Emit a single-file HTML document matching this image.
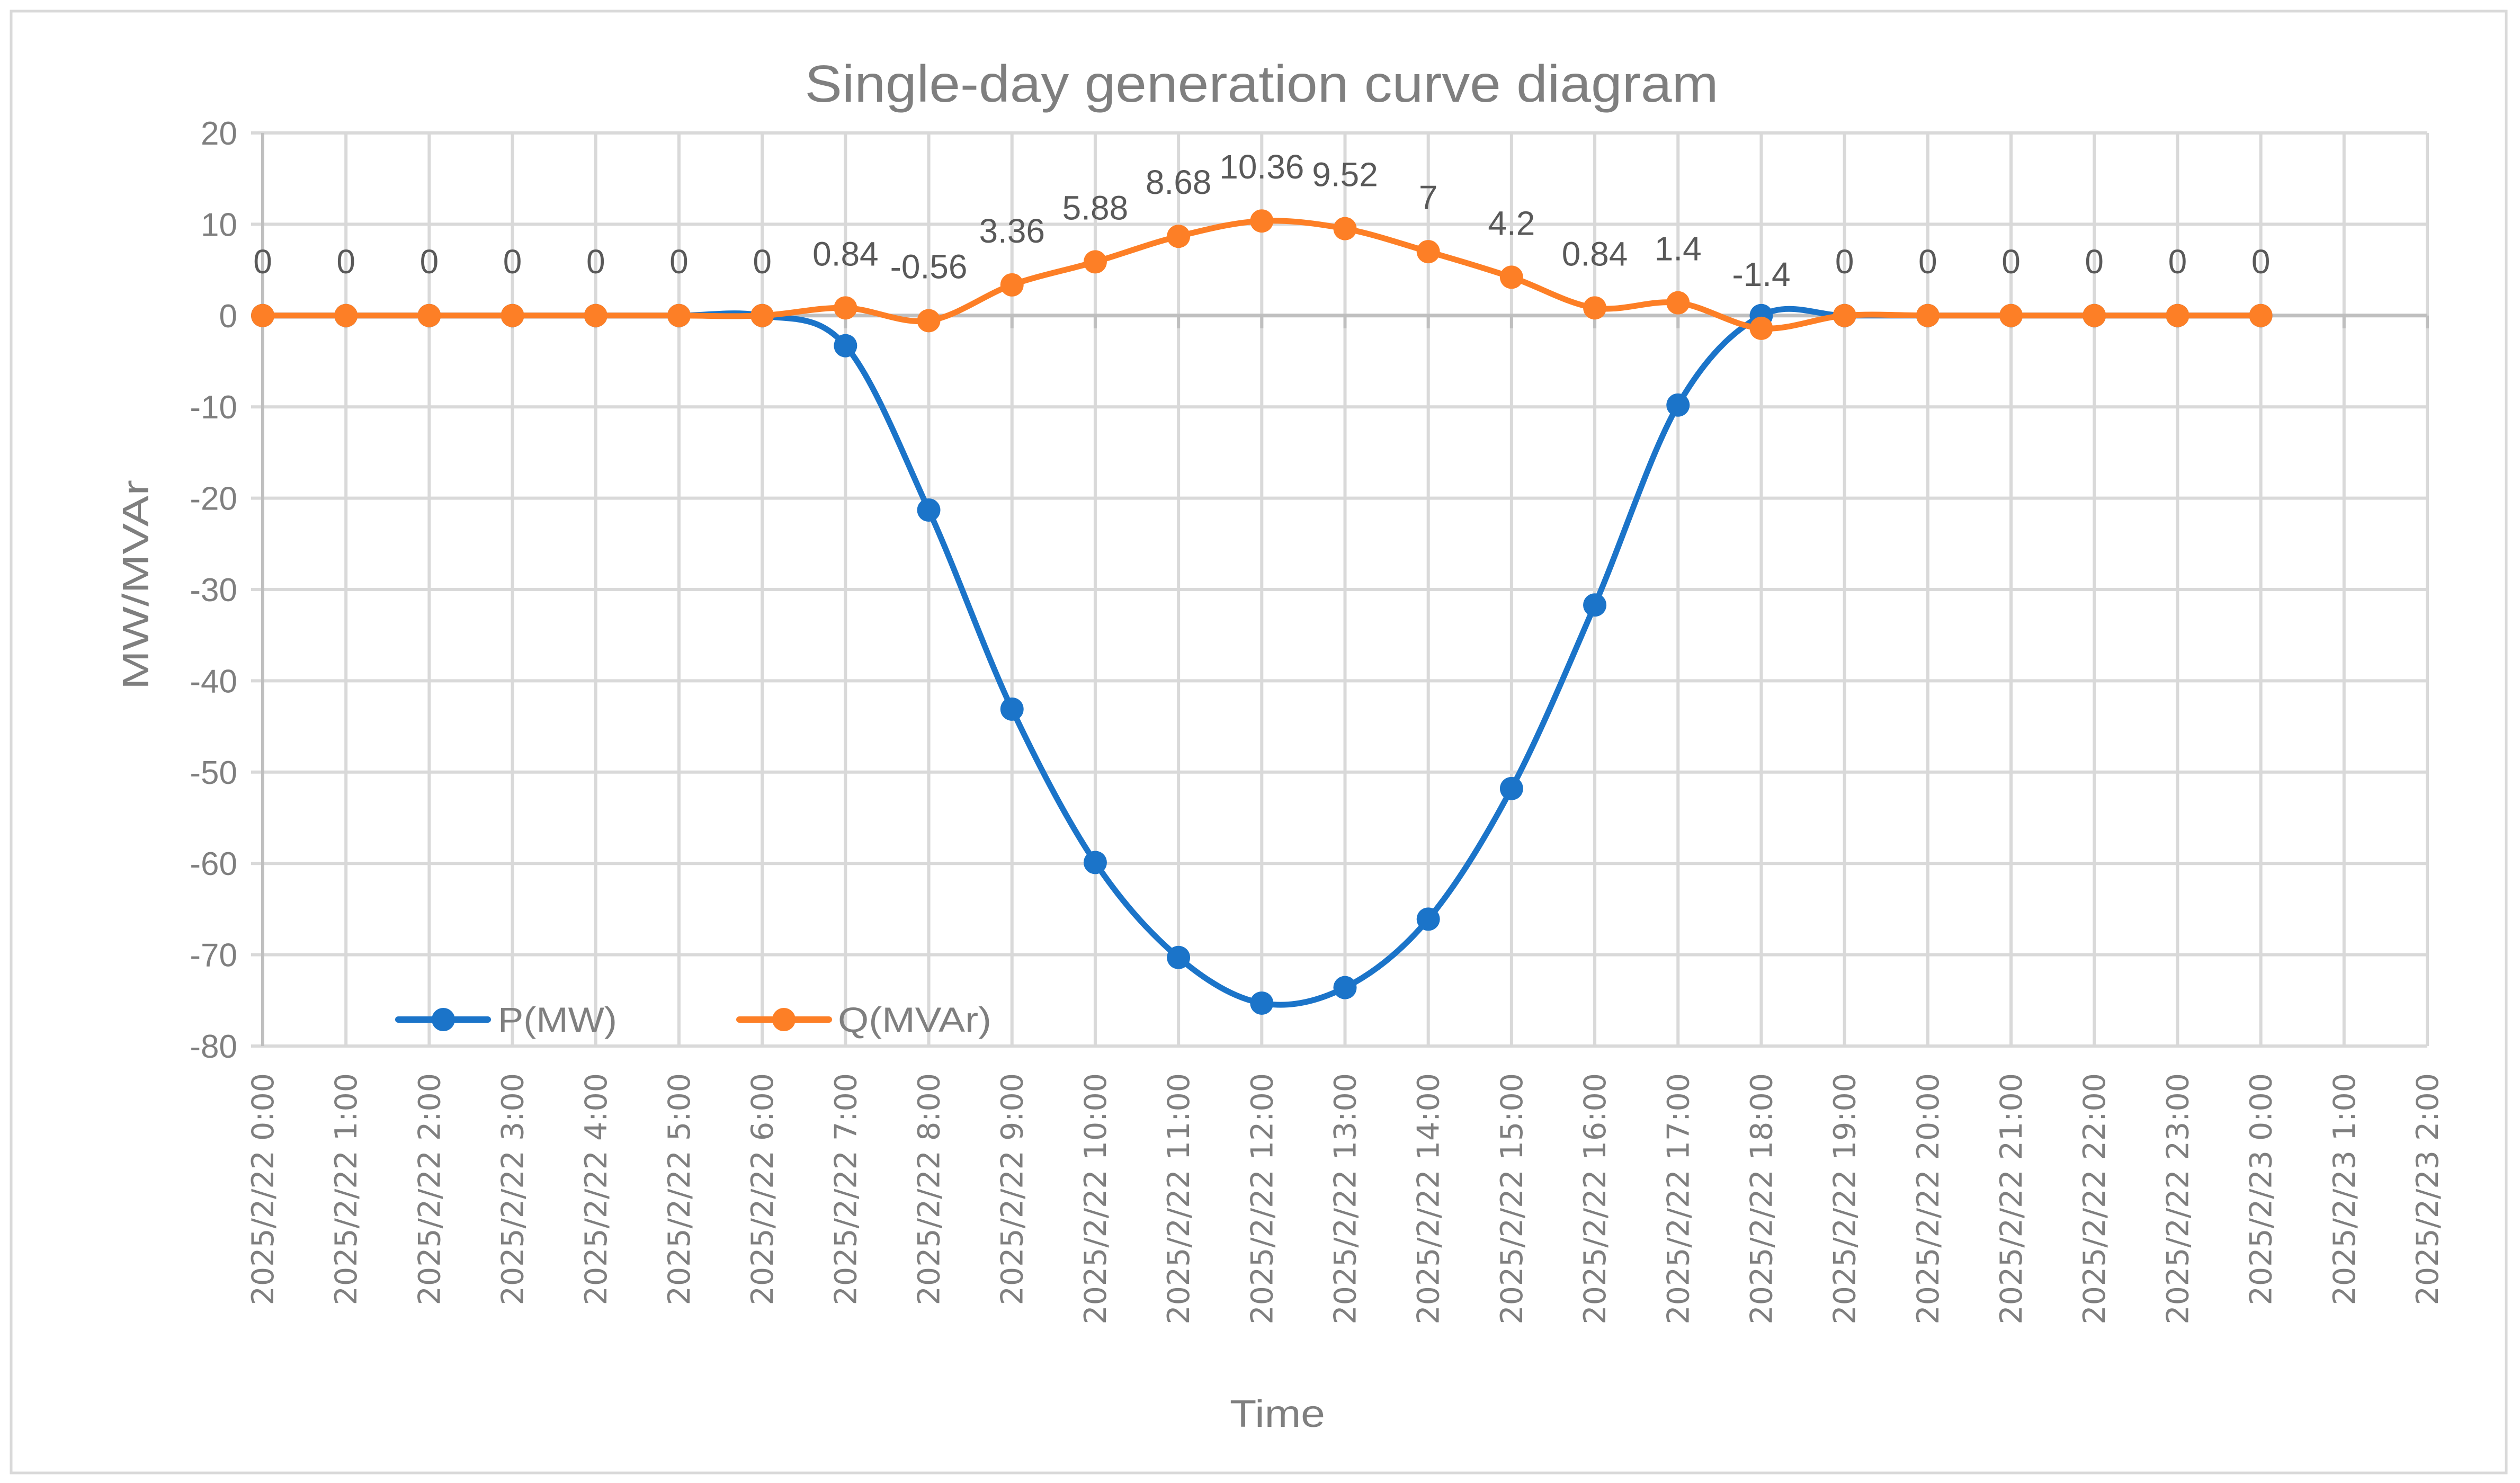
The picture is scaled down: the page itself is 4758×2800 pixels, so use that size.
<!DOCTYPE html>
<html><head><meta charset="utf-8"><style>
html,body{margin:0;padding:0;background:#fff}
svg{display:block;font-family:"Liberation Sans",sans-serif}
</style></head><body>
<svg id="chart" width="4758" height="2800" viewBox="0 0 4758 2800" xmlns="http://www.w3.org/2000/svg">
<rect x="21" y="21" width="4711" height="2760" fill="#fff" stroke="#d9d9d9" stroke-width="5"/>
<text x="2382" y="192" font-size="98" fill="#7f7f7f" text-anchor="middle" textLength="1725" lengthAdjust="spacingAndGlyphs">Single-day generation curve diagram</text>
<text transform="translate(280,1104) rotate(-90)" font-size="70" fill="#7f7f7f" text-anchor="middle" textLength="396" lengthAdjust="spacingAndGlyphs">MW/MVAr</text>
<text x="2412" y="2694" font-size="72" fill="#7f7f7f" text-anchor="middle" textLength="180" lengthAdjust="spacingAndGlyphs">Time</text>
<g id="grid"></g>
<g id="series"></g>
<g id="labels"></g>
<g>
 <g>
  <line x1="752" y1="1925" x2="921" y2="1925" stroke="#1b74c9" stroke-width="12" stroke-linecap="round"/>
  <circle cx="837" cy="1925" r="22" fill="#1b74c9"/>
  <text x="940" y="1948" font-size="66" fill="#7f7f7f" textLength="225" lengthAdjust="spacingAndGlyphs">P(MW)</text>
 </g>
 <g>
  <line x1="1396" y1="1925" x2="1565" y2="1925" stroke="#fd7f26" stroke-width="12" stroke-linecap="round"/>
  <circle cx="1480" cy="1925" r="22" fill="#fd7f26"/>
  <text x="1582" y="1948" font-size="66" fill="#7f7f7f" textLength="290" lengthAdjust="spacingAndGlyphs">Q(MVAr)</text>
 </g>
</g>
</svg>
<script>
const categories = ["2025/2/22 0:00","2025/2/22 1:00","2025/2/22 2:00","2025/2/22 3:00","2025/2/22 4:00","2025/2/22 5:00","2025/2/22 6:00","2025/2/22 7:00","2025/2/22 8:00","2025/2/22 9:00","2025/2/22 10:00","2025/2/22 11:00","2025/2/22 12:00","2025/2/22 13:00","2025/2/22 14:00","2025/2/22 15:00","2025/2/22 16:00","2025/2/22 17:00","2025/2/22 18:00","2025/2/22 19:00","2025/2/22 20:00","2025/2/22 21:00","2025/2/22 22:00","2025/2/22 23:00","2025/2/23 0:00","2025/2/23 1:00","2025/2/23 2:00"];
const pValues = [0,0,0,0,0,0,0,-3.3,-21.3,-43.1,-59.9,-70.3,-75.3,-73.6,-66.1,-51.8,-31.7,-9.8,0,0,0,0,0,0,0];
const qValues = [0,0,0,0,0,0,0,0.84,-0.56,3.36,5.88,8.68,10.36,9.52,7,4.2,0.84,1.4,-1.4,0,0,0,0,0,0];
const qLabels = ["0","0","0","0","0","0","0","0.84","-0.56","3.36","5.88","8.68","10.36","9.52","7","4.2","0.84","1.4","-1.4","0","0","0","0","0","0"];
const yTicks = [20,10,0,-10,-20,-30,-40,-50,-60,-70,-80];

const NS="http://www.w3.org/2000/svg";
const X0=496, X1=4583, YTOP=251, YBOT=1975, YMAX=20, YMIN=-80;
const xs=i=>X0+(X1-X0)*i/(categories.length-1);
const ys=v=>YTOP+(YMAX-v)/(YMAX-YMIN)*(YBOT-YTOP);
function mk(tag,attrs,parent){const e=document.createElementNS(NS,tag);for(const k in attrs)e.setAttribute(k,attrs[k]);parent.appendChild(e);return e;}
const grid=document.getElementById('grid'),ser=document.getElementById('series'),lab=document.getElementById('labels');

yTicks.forEach(v=>{
 const l=mk('line',{x1:X0,x2:X1,y1:ys(v),y2:ys(v),stroke:'#d9d9d9','stroke-width':6},grid);
 
 
 const tk=mk('line',{x1:X0-22,x2:X0,y1:ys(v),y2:ys(v),stroke:'#d9d9d9','stroke-width':6},grid);
 
 
 const t=mk('text',{x:X0-48,y:ys(v)+22,'font-size':62,fill:'#7f7f7f','text-anchor':'end'},grid);
 t.textContent=v;
 
 
});
categories.forEach((c,i)=>{
 const l=mk('line',{x1:xs(i),x2:xs(i),y1:YTOP,y2:YBOT,stroke:i===0?'#bfbfbf':'#d9d9d9','stroke-width':6},grid);
 
 
 const t=mk('text',{transform:`translate(${xs(i)+20},2026) rotate(-90)`,'font-size':57,fill:'#7f7f7f','text-anchor':'end','font-family':'DejaVu Sans, sans-serif'},grid);
 t.textContent=c;
 
 
});
// zero axis
const ax=mk('line',{x1:X0,x2:X1,y1:ys(0),y2:ys(0),stroke:'#bfbfbf','stroke-width':7},grid);


categories.forEach((c,i)=>{
 const tk=mk('line',{x1:xs(i),x2:xs(i),y1:ys(0),y2:ys(0)+24,stroke:'#bfbfbf','stroke-width':6},grid);
 
 
});

function smooth(vals){
 const p=vals.map((v,i)=>[xs(i),ys(v)]);
 let d=`M${p[0][0]},${p[0][1]}`;
 for(let i=0;i<p.length-1;i++){
  const a=p[Math.max(i-1,0)],b=p[i],c=p[i+1],e=p[Math.min(i+2,p.length-1)];
  const t=1/6;
  d+=` C${b[0]+(c[0]-a[0])*t},${b[1]+(c[1]-a[1])*t} ${c[0]-(e[0]-b[0])*t},${c[1]-(e[1]-b[1])*t} ${c[0]},${c[1]}`;
 }
 return d;
}
function drawSeries(vals,color,name){
 const g=mk('g',{},ser);
 
 
 const path=mk('path',{d:smooth(vals),fill:'none',stroke:color,'stroke-width':11,'stroke-linejoin':'round','stroke-linecap':'round'},g);
 
 
 vals.forEach((v,i)=>{
  const c=mk('circle',{cx:xs(i),cy:ys(v),r:22,fill:color},g);
  
  
 });
}
drawSeries(pValues,'#1b74c9','p-series');
drawSeries(qValues,'#fd7f26','q-series');
qValues.forEach((v,i)=>{
 const t=mk('text',{x:xs(i),y:ys(v)-80,'font-size':64,fill:'#595959','text-anchor':'middle'},lab);
 t.textContent=qLabels[i];
 
 
});
</script>
</body></html>
